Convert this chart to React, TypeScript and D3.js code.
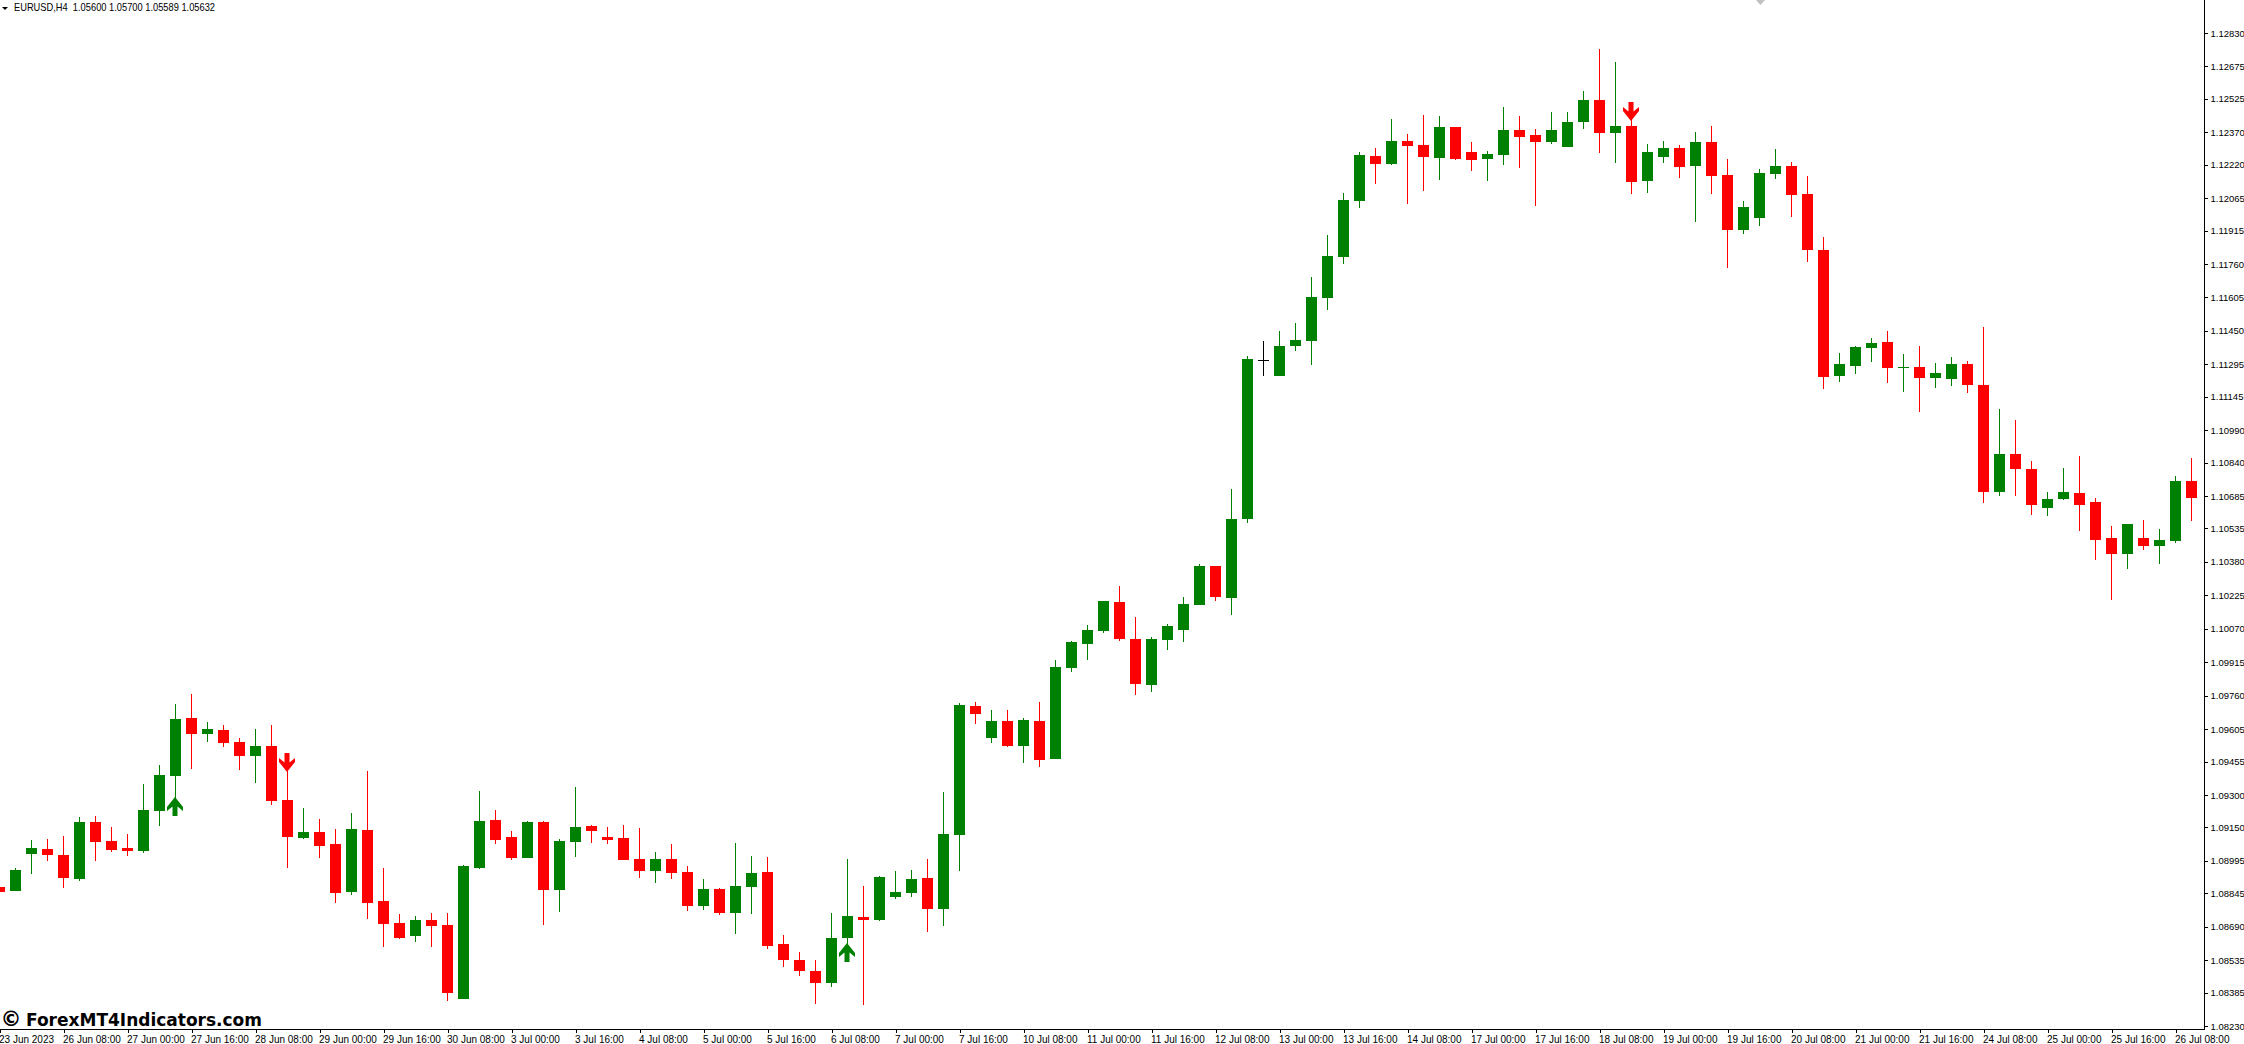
import { useEffect, useRef } from "react"
import * as d3 from "d3"

const opens = [
  1.08874, 1.08855, 1.09027, 1.09050, 1.09022, 1.08911, 1.09175, 1.09087, 1.09055, 1.09041,
  1.09226, 1.09388, 1.09657, 1.09583, 1.09601, 1.09546, 1.09481, 1.09527, 1.09277, 1.09101,
  1.09129, 1.09073, 1.08851, 1.09138, 1.08809, 1.08707, 1.08647, 1.08721, 1.08698, 1.08355,
  1.08962, 1.09184, 1.09106, 1.09008, 1.09175, 1.08860, 1.09082, 1.09156, 1.09106, 1.09101,
  1.09004, 1.08948, 1.09004, 1.08943, 1.08786, 1.08865, 1.08753, 1.08874, 1.08943, 1.08610,
  1.08536, 1.08485, 1.08429, 1.08638, 1.08735, 1.08721, 1.08828, 1.08846, 1.08916, 1.08772,
  1.09115, 1.09712, 1.09564, 1.09643, 1.09527, 1.09643, 1.09467, 1.09888, 1.10000, 1.10060,
  1.10194, 1.10023, 1.09810, 1.10018, 1.10064, 1.10180, 1.10361, 1.10213, 1.10579, 1.11314,
  1.11241, 1.11380, 1.11403, 1.11602, 1.11792, 1.12052, 1.12260, 1.12223, 1.12330, 1.12311,
  1.12251, 1.12395, 1.12279, 1.12246, 1.12265, 1.12381, 1.12358, 1.12325, 1.12302, 1.12418,
  1.12520, 1.12367, 1.12399, 1.12144, 1.12256, 1.12297, 1.12214, 1.12325, 1.12172, 1.11917,
  1.11973, 1.12177, 1.12214, 1.12084, 1.11825, 1.11241, 1.11287, 1.11371, 1.11399, 1.11278,
  1.11283, 1.11232, 1.11227, 1.11297, 1.11199, 1.10704, 1.10880, 1.10810, 1.10630, 1.10671,
  1.10699, 1.10657, 1.10491, 1.10417, 1.10491, 1.10454, 1.10477, 1.10755,
]
const highs = [
  1.08874, 1.08962, 1.09092, 1.09096, 1.09110, 1.09198, 1.09203, 1.09152, 1.09119, 1.09351,
  1.09439, 1.09722, 1.09768, 1.09638, 1.09624, 1.09564, 1.09606, 1.09624, 1.09416, 1.09240,
  1.09189, 1.09143, 1.09217, 1.09411, 1.08962, 1.08749, 1.08740, 1.08753, 1.08753, 1.08976,
  1.09319, 1.09231, 1.09133, 1.09180, 1.09180, 1.09096, 1.09337, 1.09161, 1.09152, 1.09161,
  1.09147, 1.09036, 1.09073, 1.08971, 1.08911, 1.08869, 1.09078, 1.09018, 1.09013, 1.08652,
  1.08573, 1.08536, 1.08753, 1.09004, 1.08879, 1.08925, 1.08948, 1.08953, 1.09004, 1.09314,
  1.09726, 1.09731, 1.09694, 1.09694, 1.09657, 1.09731, 1.09925, 1.10014, 1.10088, 1.10199,
  1.10268, 1.10125, 1.10032, 1.10092, 1.10217, 1.10370, 1.10361, 1.10718, 1.11334, 1.11403,
  1.11449, 1.11487, 1.11700, 1.11894, 1.12089, 1.12279, 1.12297, 1.12432, 1.12362, 1.12450,
  1.12446, 1.12395, 1.12325, 1.12283, 1.12487, 1.12446, 1.12385, 1.12464, 1.12464, 1.12561,
  1.12756, 1.12696, 1.12427, 1.12316, 1.12330, 1.12311, 1.12371, 1.12399, 1.12246, 1.12052,
  1.12200, 1.12293, 1.12232, 1.12168, 1.11885, 1.11348, 1.11380, 1.11417, 1.11450, 1.11343,
  1.11380, 1.11301, 1.11329, 1.11311, 1.11468, 1.11088, 1.11037, 1.10847, 1.10704, 1.10815,
  1.10870, 1.10676, 1.10546, 1.10556, 1.10574, 1.10532, 1.10778, 1.10861,
]
const lows = [
  1.08851, 1.08855, 1.08934, 1.08994, 1.08869, 1.08902, 1.08994, 1.09036, 1.09018, 1.09031,
  1.09156, 1.09207, 1.09421, 1.09546, 1.09522, 1.09416, 1.09356, 1.09254, 1.08962, 1.09096,
  1.09008, 1.08800, 1.08837, 1.08726, 1.08596, 1.08633, 1.08619, 1.08596, 1.08346, 1.08355,
  1.08957, 1.09073, 1.08999, 1.09008, 1.08698, 1.08758, 1.09013, 1.09078, 1.09073, 1.08999,
  1.08916, 1.08892, 1.08911, 1.08763, 1.08767, 1.08744, 1.08656, 1.08749, 1.08587, 1.08503,
  1.08462, 1.08332, 1.08411, 1.08610, 1.08327, 1.08716, 1.08818, 1.08828, 1.08665, 1.08693,
  1.08948, 1.09629, 1.09541, 1.09522, 1.09448, 1.09430, 1.09467, 1.09870, 1.09925, 1.10051,
  1.10014, 1.09763, 1.09777, 1.09972, 1.10009, 1.10180, 1.10199, 1.10134, 1.10560, 1.11241,
  1.11241, 1.11357, 1.11292, 1.11547, 1.11760, 1.12019, 1.12130, 1.12219, 1.12038, 1.12098,
  1.12149, 1.12242, 1.12191, 1.12144, 1.12219, 1.12205, 1.12029, 1.12316, 1.12302, 1.12385,
  1.12274, 1.12228, 1.12084, 1.12089, 1.12228, 1.12158, 1.11955, 1.12084, 1.11741, 1.11899,
  1.11936, 1.12154, 1.11978, 1.11769, 1.11181, 1.11213, 1.11250, 1.11306, 1.11209, 1.11167,
  1.11074, 1.11185, 1.11195, 1.11162, 1.10653, 1.10685, 1.10685, 1.10597, 1.10593, 1.10667,
  1.10523, 1.10389, 1.10203, 1.10347, 1.10435, 1.10370, 1.10468, 1.10569,
]
const closes = [
  1.08851, 1.08953, 1.09055, 1.09022, 1.08916, 1.09175, 1.09082, 1.09045, 1.09041, 1.09231,
  1.09393, 1.09652, 1.09583, 1.09606, 1.09541, 1.09481, 1.09527, 1.09272, 1.09106, 1.09129,
  1.09064, 1.08846, 1.09143, 1.08800, 1.08703, 1.08638, 1.08721, 1.08693, 1.08383, 1.08971,
  1.09180, 1.09092, 1.09008, 1.09175, 1.08860, 1.09087, 1.09152, 1.09133, 1.09092, 1.08999,
  1.08948, 1.09004, 1.08939, 1.08786, 1.08865, 1.08753, 1.08879, 1.08939, 1.08601, 1.08536,
  1.08485, 1.08429, 1.08638, 1.08740, 1.08721, 1.08920, 1.08851, 1.08911, 1.08772, 1.09119,
  1.09717, 1.09675, 1.09643, 1.09527, 1.09648, 1.09462, 1.09893, 1.10009, 1.10064, 1.10199,
  1.10023, 1.09814, 1.10023, 1.10083, 1.10185, 1.10361, 1.10217, 1.10579, 1.11320, 1.11314,
  1.11380, 1.11408, 1.11607, 1.11797, 1.12056, 1.12265, 1.12223, 1.12330, 1.12307, 1.12256,
  1.12395, 1.12246, 1.12242, 1.12270, 1.12381, 1.12348, 1.12325, 1.12381, 1.12418, 1.12520,
  1.12367, 1.12399, 1.12140, 1.12279, 1.12297, 1.12209, 1.12325, 1.12168, 1.11917, 1.12024,
  1.12181, 1.12214, 1.12080, 1.11825, 1.11236, 1.11297, 1.11375, 1.11394, 1.11278, 1.11283,
  1.11232, 1.11255, 1.11297, 1.11199, 1.10704, 1.10880, 1.10810, 1.10644, 1.10671, 1.10704,
  1.10644, 1.10481, 1.10417, 1.10556, 1.10454, 1.10481, 1.10755, 1.10676,
]

// MT4 prints every 4th bar on the time scale
const timeLabels = [
  "23 Jun 2023", "26 Jun 08:00", "27 Jun 00:00", "27 Jun 16:00", "28 Jun 08:00", "29 Jun 00:00",
  "29 Jun 16:00", "30 Jun 08:00", "3 Jul 00:00", "3 Jul 16:00", "4 Jul 08:00", "5 Jul 00:00",
  "5 Jul 16:00", "6 Jul 08:00", "7 Jul 00:00", "7 Jul 16:00", "10 Jul 08:00", "11 Jul 00:00",
  "11 Jul 16:00", "12 Jul 08:00", "13 Jul 00:00", "13 Jul 16:00", "14 Jul 08:00", "17 Jul 00:00",
  "17 Jul 16:00", "18 Jul 08:00", "19 Jul 00:00", "19 Jul 16:00", "20 Jul 08:00", "21 Jul 00:00",
  "21 Jul 16:00", "24 Jul 08:00", "25 Jul 00:00", "25 Jul 16:00", "26 Jul 08:00",
]
const priceTicks = [
  1.1283, 1.12675, 1.12525, 1.1237, 1.1222, 1.12065, 1.11915, 1.1176, 1.11605, 1.1145, 1.11295,
  1.11145, 1.1099, 1.1084, 1.10685, 1.10535, 1.1038, 1.10225, 1.1007, 1.09915, 1.0976, 1.09605,
  1.09455, 1.093, 1.0915, 1.08995, 1.08845, 1.0869, 1.08535, 1.08385, 1.0823,
]

const signalBars = [11, 18, 53, 102]
const signalKinds = ["up", "down", "up", "down"]
const signalPrices = [1.09291, 1.09407, 1.08614, 1.12422]

const BULL = "#008000"
const BEAR = "#ff0000"
const AXIS_FONT = "'Liberation Sans', sans-serif"

export default function App() {
  const svgRef = useRef<SVGSVGElement>(null)

  useEffect(() => {
    const width = 2244
    const height = 1044
    const axisX = 2204
    const axisY = 1029

    const svg = d3.select(svgRef.current)
    svg.selectAll("*").remove()
    svg.attr("width", width).attr("height", height)

    const x = d3.scaleLinear().domain([0, 137]).range([-0.5, 2191.5])
    const y = d3.scaleLinear().domain([1.0823, 1.1283]).range([1026, 33])

    const bars = d3.range(opens.length).map(i => ({
      i,
      open: opens[i],
      high: highs[i],
      low: lows[i],
      close: closes[i],
    }))
    const color = (d: { i: number; open: number; close: number }) =>
      d.i === 79 ? "#000000" : d.close >= d.open ? BULL : BEAR

    const chart = svg.append("g").attr("shape-rendering", "crispEdges")

    // Wicks
    chart.selectAll(".wick")
      .data(bars)
      .enter()
      .append("rect")
      .attr("class", "wick")
      .attr("x", d => x(d.i) - 0.5)
      .attr("y", d => Math.round(y(d.high)))
      .attr("width", 1)
      .attr("height", d => Math.max(1, Math.round(y(d.low)) - Math.round(y(d.high))))
      .attr("fill", color)

    // Bodies
    chart.selectAll(".body")
      .data(bars)
      .enter()
      .append("rect")
      .attr("class", "body")
      .attr("x", d => x(d.i) - 5.5)
      .attr("y", d => Math.round(y(Math.max(d.open, d.close))))
      .attr("width", 11)
      .attr("height", d =>
        Math.max(1, Math.round(y(Math.min(d.open, d.close))) - Math.round(y(Math.max(d.open, d.close))))
      )
      .attr("fill", color)

    // Signal arrows, drawn pointing up from the tip and flipped for sells
    const arrow = d3.path()
    arrow.moveTo(0, 0)
    arrow.lineTo(8, 10)
    arrow.lineTo(8, 14)
    arrow.lineTo(2.5, 9.5)
    arrow.lineTo(2.5, 19)
    arrow.lineTo(-2.5, 19)
    arrow.lineTo(-2.5, 9.5)
    arrow.lineTo(-8, 14)
    arrow.lineTo(-8, 10)
    arrow.closePath()

    signalBars.forEach((bar, k) => {
      const up = signalKinds[k] === "up"
      svg.append("path")
        .attr("d", arrow.toString())
        .attr("fill", up ? BULL : BEAR)
        .attr("transform", `translate(${x(bar) - 0.5},${y(signalPrices[k])}) scale(1,${up ? 1 : -1})`)
    })

    // Price scale
    const priceAxis = svg.append("g")
      .attr("transform", `translate(${axisX + 0.5},0)`)
      .call(
        d3.axisRight(y)
          .tickValues(priceTicks)
          .tickFormat(d => (d as number).toFixed(5))
          .tickSize(3)
          .tickPadding(3)
      )
    priceAxis.select(".domain").remove()
    priceAxis.selectAll("text")
      .attr("font-family", AXIS_FONT)
      .attr("font-size", 9.5)
      .attr("fill", "#000000")
    priceAxis.selectAll("line").attr("stroke", "#000000").attr("shape-rendering", "crispEdges")

    // Time scale
    const timeAxis = svg.append("g")
      .attr("transform", `translate(0,${axisY + 0.5})`)
      .call(
        d3.axisBottom(x)
          .tickValues(timeLabels.map((_, k) => k * 4))
          .tickFormat((_, k) => timeLabels[k])
          .tickSize(3)
          .tickPadding(3)
      )
    timeAxis.select(".domain").remove()
    timeAxis.selectAll("text")
      .attr("font-family", AXIS_FONT)
      .attr("font-size", 10)
      .attr("fill", "#000000")
      .attr("text-anchor", "start")
      .attr("dx", -1)
    timeAxis.selectAll("line").attr("stroke", "#000000").attr("shape-rendering", "crispEdges")

    svg.append("line")
      .attr("x1", 0).attr("x2", axisX + 1)
      .attr("y1", axisY + 0.5).attr("y2", axisY + 0.5)
      .attr("stroke", "#000000")
    svg.append("line")
      .attr("x1", axisX + 0.5).attr("x2", axisX + 0.5)
      .attr("y1", 0).attr("y2", axisY + 1)
      .attr("stroke", "#000000")

    // Header
    svg.append("path").attr("d", "M2,7L8,7L5,10Z").attr("fill", "#000000")
    svg.append("text")
      .attr("x", 14)
      .attr("y", 11)
      .attr("font-family", AXIS_FONT)
      .attr("font-size", 10.5)
      .attr("textLength", 201)
      .attr("lengthAdjust", "spacingAndGlyphs")
      .attr("fill", "#000000")
      .attr("xml:space", "preserve")
      .text("EURUSD,H4  1.05600 1.05700 1.05589 1.05632")

    // Small grey shift marker on the top edge
    svg.append("path").attr("d", "M1756,0L1765,0L1760.5,5Z").attr("fill", "#c0c0c0")

    // Watermark
    svg.append("text")
      .attr("x", 0.5)
      .attr("y", 1026)
      .attr("font-family", "'DejaVu Sans', sans-serif")
      .attr("font-weight", "bold")
      .attr("font-size", 21)
      .attr("fill", "#000000")
      .text("©")
    svg.append("text")
      .attr("x", 26)
      .attr("y", 1026)
      .attr("font-family", "'DejaVu Sans', sans-serif")
      .attr("font-weight", "bold")
      .attr("font-size", 18)
      .attr("textLength", 236)
      .attr("lengthAdjust", "spacingAndGlyphs")
      .attr("fill", "#000000")
      .text("ForexMT4Indicators.com")
  }, [])

  return (
    <svg
      ref={svgRef}
      style={{ position: "absolute", left: 0, top: 0, display: "block", background: "#ffffff" }}
    ></svg>
  )
}
